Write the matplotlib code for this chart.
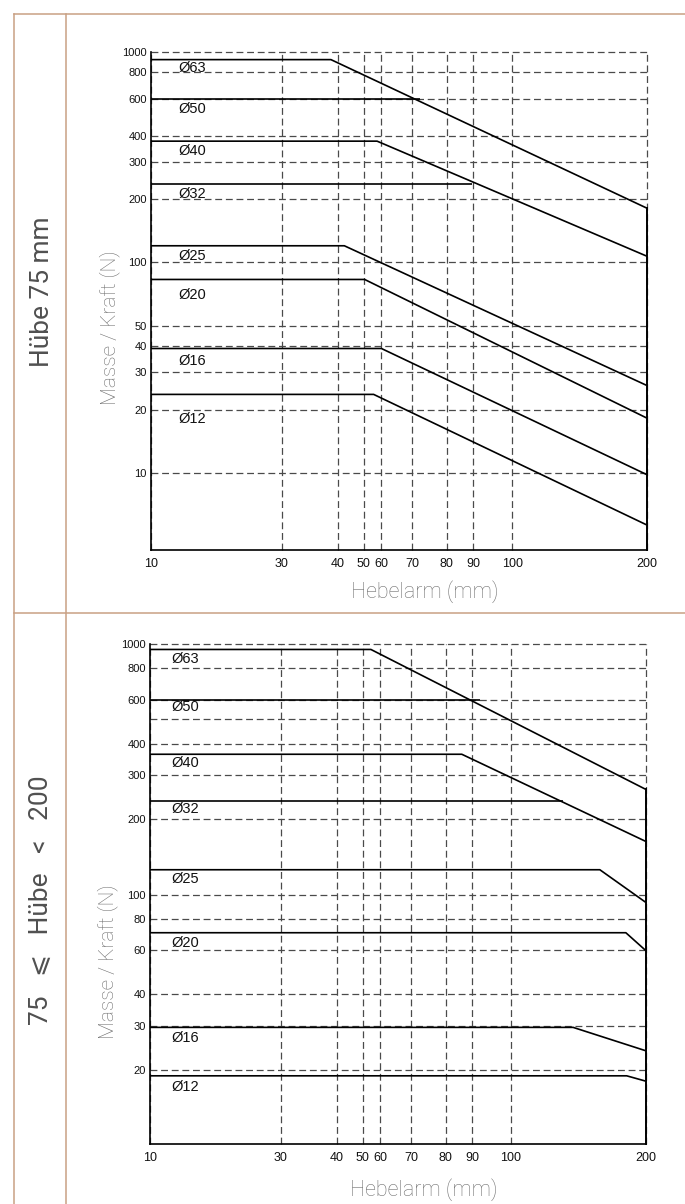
import numpy as np
import matplotlib
matplotlib.use("Agg")
import matplotlib.pyplot as plt
from matplotlib.lines import Line2D
from matplotlib.ticker import NullLocator, FixedLocator, FixedFormatter

# ---------------- data ----------------
names = ["Ø63", "Ø50", "Ø40", "Ø32", "Ø25", "Ø20", "Ø16", "Ø12"]

x_ticks = [10, 30, 40, 50, 60, 70, 80, 90, 100, 200]
x_ticklabels = ["10", "30", "40", "50", "60", "70", "80", "90", "100", "200"]

# chart 1: Hübe 75 mm
top_flat = [920, 600, 377, 237, 120, 83, 39, 23.6]
top_break = [38.6, 72.2, 57.4, 89.6, 42.3, 50.5, 60.0, 55.4]
top_end = [181, None, 107, None, 26.0, 18.2, 9.8, 5.65]
top_yticks = [10, 20, 30, 40, 50, 100, 200, 300, 400, 600, 800, 1000]
top_yticklabels = ["10", "20", "30", "40", "50", "100", "200", "300", "400", "600", "800", "1000"]

# chart 2: 75 <= Hübe < 200
bot_flat = [951, 600, 363, 236, 125.6, 70.4, 29.5, 18.9]
bot_break = [54.5, 91.9, 86.0, 130.8, 158, 180.6, 137.7, 181.4]
bot_end = [263, None, 163, None, 93.1, 59.8, 23.8, 18.0]
bot_yticks = [20, 30, 40, 60, 80, 100, 200, 300, 400, 500, 600, 800, 1000]
bot_yticklabels = ["20", "30", "40", "60", "80", "100", "200", "300", "400", "", "600", "800", "1000"]

# ---------------- x scale of the drawing (non-uniform, as in the original) ----------------
x_frac = [0.0, 0.2636, 0.3768, 0.4288, 0.4645, 0.5263, 0.5966, 0.6494, 0.728, 1.0]
_lx = np.log10(x_ticks)
_fr = np.array(x_frac)


def x_fwd(x):
    lv = np.log10(np.maximum(np.asarray(x, dtype=float), 1e-12))
    out = np.interp(lv, _lx, _fr)
    s0 = (_fr[1] - _fr[0]) / (_lx[1] - _lx[0])
    s1 = (_fr[-1] - _fr[-2]) / (_lx[-1] - _lx[-2])
    out = np.where(lv < _lx[0], _fr[0] + (lv - _lx[0]) * s0, out)
    out = np.where(lv > _lx[-1], _fr[-1] + (lv - _lx[-1]) * s1, out)
    return out


def x_inv(f):
    f = np.asarray(f, dtype=float)
    out = np.interp(f, _fr, _lx)
    s0 = (_lx[1] - _lx[0]) / (_fr[1] - _fr[0])
    s1 = (_lx[-1] - _lx[-2]) / (_fr[-1] - _fr[-2])
    out = np.where(f < _fr[0], _lx[0] + (f - _fr[0]) * s0, out)
    out = np.where(f > _fr[-1], _lx[-1] + (f - _fr[-1]) * s1, out)
    return 10 ** out


# ---------------- figure ----------------
W, H = 685, 1204
fig = plt.figure(figsize=(W / 100, H / 100), dpi=100)

frame_col = "#c9a184"
grid_col = "#4a4a4a"
label_gray = "#707070"
LIGHT = ["Roboto", "DejaVu Sans"]
SIDE = ["Roboto", "DejaVu Sans", "DejaVu Serif", "Noto Sans"]
TICKF = ["Liberation Sans", "DejaVu Sans"]


def fl(x0, y0, x1, y1):
    fig.add_artist(Line2D([x0 / W, x1 / W], [1 - y0 / H, 1 - y1 / H],
                          transform=fig.transFigure, color=frame_col, lw=1.1))


fl(14, 14, W, 14)
fl(14, 612.5, W, 612.5)
fl(14, 14, 14, H)
fl(65.5, 14, 65.5, H)

fig.text(42 / W, 1 - 292 / H, "Hübe 75 mm", rotation=90, ha="center", va="center",
         fontsize=19, color="#505050", family=SIDE, fontweight="normal")
fig.text(41 / W, 1 - 900 / H, "75   ⩽   Hübe   <   200", rotation=90, ha="center", va="center",
         fontsize=19, color="#505050", family=SIDE, fontweight="normal")


def draw(rect, flat, brk, end, yticks, yticklabels, ylim, lab_x, lab_dy, xl_pos, yl_pos):
    ax = fig.add_axes(rect)
    ax.set_xscale("function", functions=(x_fwd, x_inv))
    ax.set_yscale("log")
    ax.set_xlim(x_ticks[0], x_ticks[-1])
    ax.set_ylim(*ylim)

    ax.xaxis.set_major_locator(FixedLocator(x_ticks))
    ax.xaxis.set_major_formatter(FixedFormatter(x_ticklabels))
    ax.xaxis.set_minor_locator(NullLocator())
    ax.yaxis.set_major_locator(FixedLocator(yticks))
    ax.yaxis.set_major_formatter(FixedFormatter(yticklabels))
    ax.yaxis.set_minor_locator(NullLocator())

    ax.grid(True, which="major", color=grid_col, lw=0.9, linestyle=(0, (5.5, 3)), zorder=1)
    ax.set_axisbelow(True)
    for gl in ax.get_xgridlines() + ax.get_ygridlines():
        gl.set_clip_on(False)
    for s in ("top", "right"):
        ax.spines[s].set_visible(False)
    for s in ("left", "bottom"):
        ax.spines[s].set_linewidth(1.2)
        ax.spines[s].set_zorder(4)

    ax.tick_params(axis="y", length=0, pad=3, labelsize=8, labelcolor="#111111")
    ax.tick_params(axis="x", length=0, pad=6, labelsize=9, labelcolor="#111111")
    for t in ax.get_xticklabels() + ax.get_yticklabels():
        t.set_family(TICKF)

    for i, nm in enumerate(names):
        xs = [x_ticks[0], brk[i]]
        ys = [flat[i], flat[i]]
        if end[i] is not None:
            xs.append(x_ticks[-1])
            ys.append(end[i])
        ax.plot(xs, ys, color="black", lw=1.2, zorder=3, solid_capstyle="butt")
        ax.annotate(nm, xy=(lab_x, flat[i]), xycoords=("axes fraction", "data"),
                    xytext=(0, -lab_dy[i]), textcoords="offset pixels",
                    ha="left", va="center", fontsize=10.5, family=TICKF, color="#111111")

    # closing vertical line at the right edge
    ax.plot([x_ticks[-1], x_ticks[-1]], [ylim[0], end[0]], color="black", lw=1.4, zorder=3,
            clip_on=False)

    ax.set_xlabel("Hebelarm (mm)", fontsize=15.5, color=label_gray, family=LIGHT, fontweight="light")
    ax.xaxis.set_label_coords(*xl_pos)
    ax.xaxis.label.set_va("center")
    ax.set_ylabel("Masse / Kraft (N)", fontsize=15, color=label_gray, family=LIGHT, fontweight="light")
    ax.yaxis.set_label_coords(*yl_pos)
    ax.yaxis.label.set_va("center")
    return ax


draw([151 / W, 1 - 550 / H, 496 / W, 498 / H], top_flat, top_break, top_end,
     top_yticks, top_yticklabels, (4.3, 1000), 0.056,
     [8, 10.3, 9.7, 10, 10.7, 16, 12.4, 24.3],
     (0.552, -0.084), (-0.083, 0.446))

draw([150 / W, 1 - 1144 / H, 495.7 / W, 500 / H], bot_flat, bot_break, bot_end,
     bot_yticks, bot_yticklabels, (10.1, 1000), 0.044,
     [10, 7.4, 9, 8.3, 9, 10.6, 10.6, 10.7],
     (0.552, -0.092), (-0.085, 0.364))

fig.savefig("out.png", dpi=100)
